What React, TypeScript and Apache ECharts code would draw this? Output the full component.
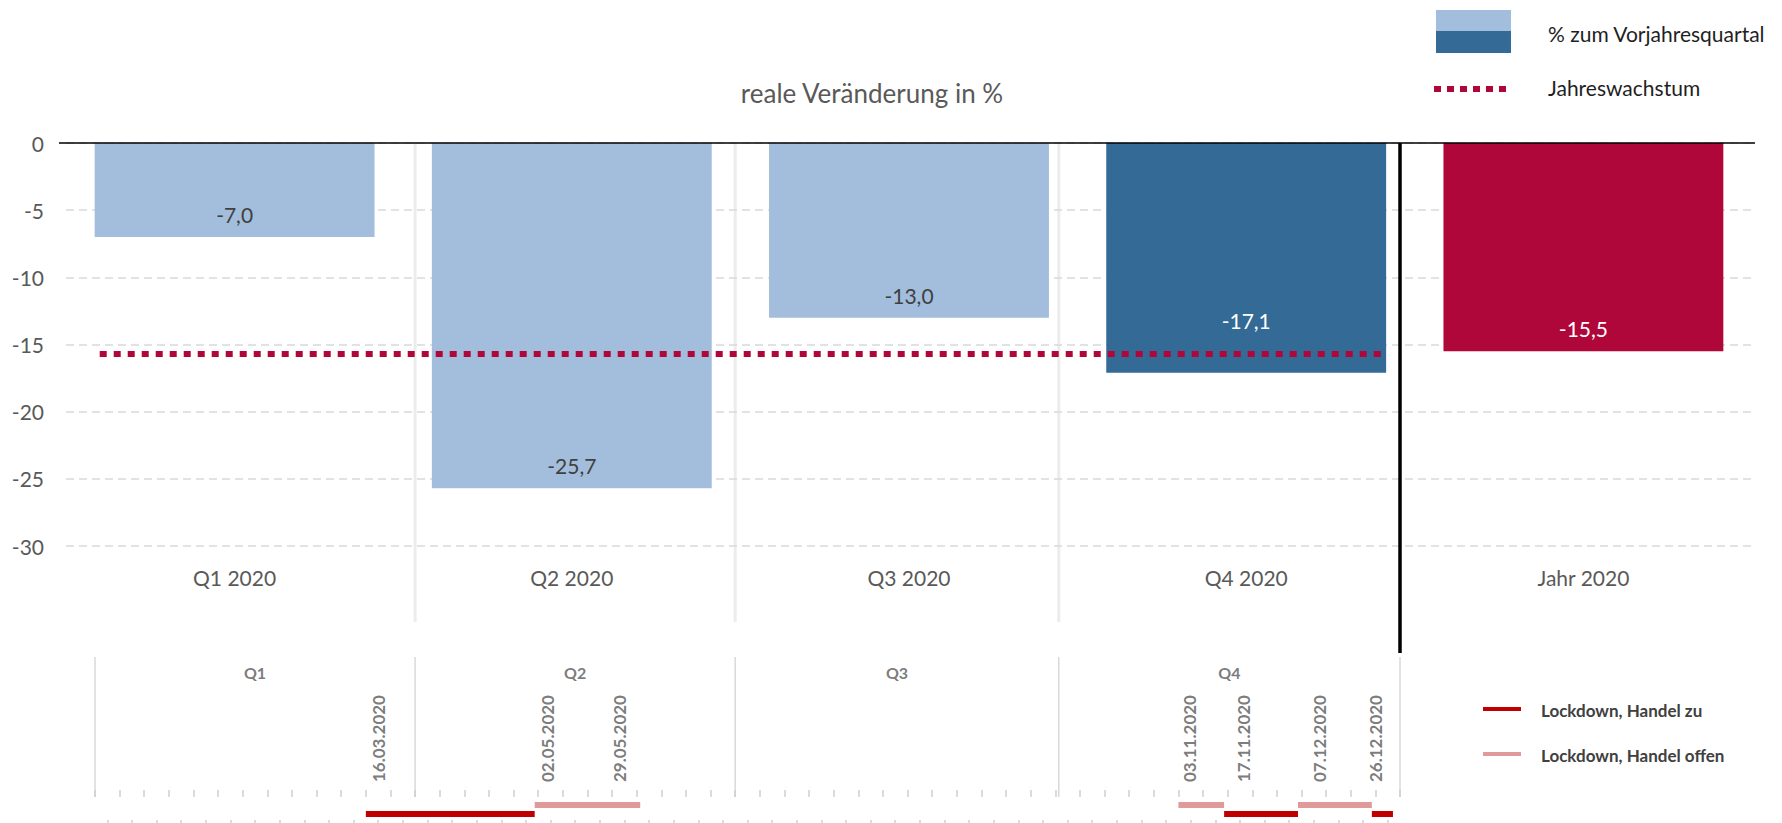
import React, { useEffect, useRef } from "react";
import * as echarts from "echarts";

// ---- data ----
const categories = ["Q1 2020", "Q2 2020", "Q3 2020", "Q4 2020", "Jahr 2020"];
const changeValues = [-7.0, -25.7, -13.0, -17.1, -15.5];
const annualGrowthLine = -15.7; // dotted line level as drawn
const yTickValues = [0, -5, -10, -15, -20, -25, -30];

const quarterNames = ["Q1", "Q2", "Q3", "Q4"];
const quarterStarts = ["2020-01-01", "2020-04-01", "2020-07-01", "2020-10-01"];
const timelineEnd = "2021-01-06";
// lockdown phases as drawn on the timeline
const closedPeriods = [
  ["2020-03-18", "2020-05-05"],
  ["2020-11-17", "2020-12-08"],
  ["2020-12-29", "2021-01-04"],
];
const openPeriods = [
  ["2020-05-05", "2020-06-04"],
  ["2020-11-04", "2020-11-17"],
  ["2020-12-08", "2020-12-29"],
];
const dateLabels = [
  "16.03.2020",
  "02.05.2020",
  "29.05.2020",
  "03.11.2020",
  "17.11.2020",
  "07.12.2020",
  "26.12.2020",
];

// ---- helpers / styles ----
const FONT = "Lato";
const LIGHT_BLUE = "#a3bedc";
const DARK_BLUE = "#336a96";
const CRIMSON = "#b0073b";
const RED_CLOSED = "#c00000";
const RED_OPEN = "#e09a9a";
const GRAY_TEXT = "#595959";
const barColors = [LIGHT_BLUE, LIGHT_BLUE, LIGHT_BLUE, DARK_BLUE, CRIMSON];
const labelColors = ["#404040", "#404040", "#404040", "#ffffff", "#ffffff"];
const labelDistances = [12, 12, 12, 42, 12];
const dateLabelShifts = [20, 23, 0, 15, 19, 25, 14];
const BAR_RATIO = 0.83;

const DAY = 86400000;
const T0 = Date.UTC(2020, 0, 1);
function isoDay(s: string): number {
  const [y, m, d] = s.split("-").map(Number);
  return (Date.UTC(y, m - 1, d) - T0) / DAY;
}
function deDay(s: string): number {
  const [d, m, y] = s.split(".").map(Number);
  return (Date.UTC(y, m - 1, d) - T0) / DAY;
}
const fmt = (v: number) => v.toFixed(1).replace(".", ",");

export default function App() {
  const ref = useRef<HTMLDivElement>(null);

  useEffect(() => {
    if (!ref.current) return;
    const chart = echarts.init(ref.current, null, { renderer: "svg" });

    const endDay = isoDay(timelineEnd);
    const qStartDays = quarterStarts.map(isoDay);
    const qBounds = [...qStartDays, endDay];
    const qMid = quarterNames.map((_, i) => (qBounds[i] + qBounds[i + 1]) / 2);
    const halfWeeks: number[] = [];
    for (let d = 3.5; d < endDay; d += 7) halfWeeks.push(d);

    const ROW_OPEN = -8;
    const ROW_CLOSED = -17;

    const periodSeries = (periods: string[][], y: number, color: string, name: string) =>
      periods.map((p, i) => ({
        type: "line",
        name: name + i,
        xAxisIndex: 2,
        yAxisIndex: 1,
        data: [
          [isoDay(p[0]), y],
          [isoDay(p[1]), y],
        ],
        symbol: "none",
        lineStyle: { color, width: 6, cap: "butt" },
        silent: true,
      }));

    const option: any = {
      animation: false,
      textStyle: { fontFamily: FONT },
      grid: [
        { left: 66, right: 30, top: 143, bottom: 277 },
        { left: 95, right: 382, top: 657, bottom: 3 },
      ],
      xAxis: [
        {
          type: "category",
          gridIndex: 0,
          position: "bottom",
          data: categories,
          axisLine: { show: false },
          axisTick: { show: false },
          axisLabel: { margin: 21, fontSize: 21, color: GRAY_TEXT, fontFamily: FONT },
        },
        {
          type: "value",
          gridIndex: 0,
          position: "top",
          min: 0,
          max: categories.length,
          axisLine: { show: false, onZero: false },
          axisTick: { show: false },
          axisLabel: { show: false },
          splitLine: { show: false },
        },
        {
          type: "value",
          gridIndex: 1,
          position: "top",
          min: 0,
          max: endDay,
          interval: 7,
          axisLine: { show: false, onZero: true },
          axisTick: { show: true, length: 7, lineStyle: { color: "#cfcfcf", width: 1.5 } },
          axisLabel: { show: false },
          splitLine: { show: false },
        },
        {
          type: "value",
          gridIndex: 1,
          position: "bottom",
          min: 0,
          max: endDay,
          axisLine: { show: false, onZero: false },
          axisTick: {
            show: true,
            length: 7,
            customValues: halfWeeks,
            lineStyle: { color: "#cfcfcf", width: 1.5 },
          },
          axisLabel: { show: false },
          splitLine: { show: false },
        },
      ],
      yAxis: [
        {
          type: "value",
          gridIndex: 0,
          min: yTickValues[yTickValues.length - 1],
          max: yTickValues[0],
          interval: 5,
          axisLine: { show: false },
          axisTick: { show: false },
          axisLabel: { fontSize: 21, color: GRAY_TEXT, margin: 22, fontFamily: FONT },
          splitLine: { lineStyle: { color: "#d9d9d9", width: 1.5, type: [8, 5] } },
        },
        {
          type: "value",
          gridIndex: 1,
          min: -23,
          max: 140,
          show: false,
          splitLine: { show: false },
        },
      ],
      series: [
        {
          type: "bar",
          xAxisIndex: 0,
          yAxisIndex: 0,
          barWidth: BAR_RATIO * 100 + "%",
          data: changeValues.map((v, i) => ({
            value: v,
            itemStyle: { color: barColors[i] },
            label: { color: labelColors[i], distance: labelDistances[i] },
          })),
          label: {
            show: true,
            position: "insideBottom",
            fontSize: 21,
            fontFamily: FONT,
            formatter: (p: any) => fmt(p.value),
          },
          silent: true,
        },
        {
          type: "line",
          name: "Jahreswachstum",
          xAxisIndex: 1,
          yAxisIndex: 0,
          data: [
            [0.5 - BAR_RATIO / 2 + 0.015, annualGrowthLine],
            [categories.length - 1.5 + BAR_RATIO / 2, annualGrowthLine],
          ],
          symbol: "none",
          z: 5,
          lineStyle: { color: CRIMSON, width: 6, type: [7, 7], cap: "butt" },
          silent: true,
        },
        ...periodSeries(openPeriods, ROW_OPEN, RED_OPEN, "open"),
        ...periodSeries(closedPeriods, ROW_CLOSED, RED_CLOSED, "closed"),
        {
          type: "scatter",
          xAxisIndex: 2,
          yAxisIndex: 1,
          symbolSize: 1,
          itemStyle: { color: "rgba(0,0,0,0)" },
          data: dateLabels.map((s, i) => ({
            value: [deDay(s), 15],
            name: s,
            label: { offset: [0, dateLabelShifts[i]] },
          })),
          label: {
            show: true,
            position: "inside",
            rotate: 90,
            align: "left",
            verticalAlign: "middle",
            formatter: (p: any) => p.name,
            fontSize: 17,
            fontWeight: "bold",
            color: GRAY_TEXT,
            fontFamily: FONT,
          },
          silent: true,
        },
        {
          type: "scatter",
          xAxisIndex: 2,
          yAxisIndex: 1,
          symbolSize: 1,
          itemStyle: { color: "rgba(0,0,0,0)" },
          data: quarterNames.map((q, i) => ({ value: [qMid[i], 125], name: q })),
          label: {
            show: true,
            position: "inside",
            formatter: (p: any) => p.name,
            fontSize: 16,
            fontWeight: "bold",
            color: GRAY_TEXT,
            fontFamily: FONT,
          },
          silent: true,
        },
      ],
    };

    chart.setOption(option);

    const px = (d: number) => chart.convertToPixel({ xAxisIndex: 2 }, d) as number;
    const yTop = chart.convertToPixel({ yAxisIndex: 0 }, 0) as number;

    const graphics: any[] = [];
    // top axis line (zero line)
    graphics.push({
      type: "line",
      shape: { x1: 59, y1: yTop, x2: 1755, y2: yTop },
      style: { stroke: "#000", lineWidth: 1.5 },
      z: 6,
      silent: true,
    });
    // light separators in bar area
    qStartDays.slice(1).forEach((d) => {
      const x = px(d);
      graphics.push({
        type: "line",
        shape: { x1: x, y1: yTop, x2: x, y2: 622 },
        style: { stroke: "#ececec", lineWidth: 3 },
        z: -1,
        silent: true,
      });
    });
    // timeline separators
    qBounds.forEach((d) => {
      const x = px(d);
      graphics.push({
        type: "line",
        shape: { x1: x, y1: 657, x2: x, y2: 797 },
        style: { stroke: "#d9d9d9", lineWidth: 1.5 },
        silent: true,
      });
    });
    // black divider
    {
      const x = px(endDay);
      graphics.push({
        type: "line",
        shape: { x1: x, y1: yTop, x2: x, y2: 653 },
        style: { stroke: "#000", lineWidth: 3.5 },
        z: 10,
        silent: true,
      });
    }
    // title
    graphics.push({
      type: "text",
      x: 872,
      y: 93,
      style: {
        text: "reale Veränderung in %",
        font: `26px ${FONT}`,
        fill: GRAY_TEXT,
        align: "center",
        verticalAlign: "middle",
      },
    });
    // top-right legend
    graphics.push(
      { type: "rect", shape: { x: 1436, y: 10, width: 75, height: 21 }, style: { fill: LIGHT_BLUE } },
      { type: "rect", shape: { x: 1436, y: 31, width: 75, height: 22 }, style: { fill: DARK_BLUE } },
      {
        type: "text",
        x: 1548,
        y: 33,
        style: { text: "% zum Vorjahresquartal", font: `21px ${FONT}`, fill: "#1f1f1f", verticalAlign: "middle" },
      },
      {
        type: "line",
        shape: { x1: 1434, y1: 89, x2: 1508, y2: 89 },
        style: { stroke: CRIMSON, lineWidth: 6, lineDash: [7, 6] },
      },
      {
        type: "text",
        x: 1548,
        y: 87,
        style: { text: "Jahreswachstum", font: `21px ${FONT}`, fill: "#1f1f1f", verticalAlign: "middle" },
      }
    );
    // bottom-right legend
    graphics.push(
      {
        type: "line",
        shape: { x1: 1483, y1: 709, x2: 1521, y2: 709 },
        style: { stroke: RED_CLOSED, lineWidth: 4 },
      },
      {
        type: "text",
        x: 1541,
        y: 710,
        style: { text: "Lockdown, Handel zu", font: `bold 17px ${FONT}`, fill: "#404040", verticalAlign: "middle" },
      },
      {
        type: "line",
        shape: { x1: 1483, y1: 754, x2: 1521, y2: 754 },
        style: { stroke: RED_OPEN, lineWidth: 4 },
      },
      {
        type: "text",
        x: 1541,
        y: 755,
        style: { text: "Lockdown, Handel offen", font: `bold 17px ${FONT}`, fill: "#404040", verticalAlign: "middle" },
      }
    );

    chart.setOption({ graphic: graphics });

    return () => chart.dispose();
  }, []);

  return (
    <div
      ref={ref}
      style={{ position: "fixed", left: 0, top: 0, width: 1782, height: 823, background: "#fff" }}
    />
  );
}
